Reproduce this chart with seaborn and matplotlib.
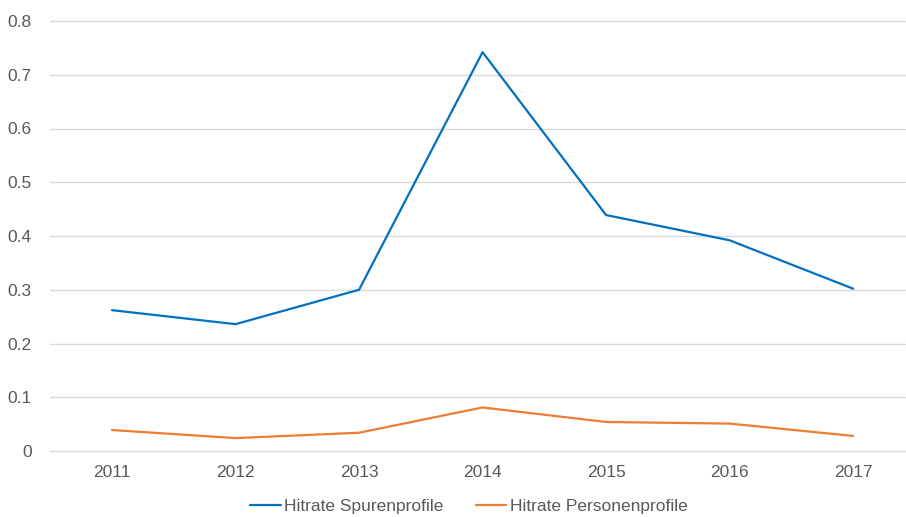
import matplotlib
matplotlib.use("Agg")
import matplotlib.pyplot as plt
import pandas as pd
import seaborn as sns

years = ["2011", "2012", "2013", "2014", "2015", "2016", "2017"]
spuren = [0.262, 0.236, 0.300, 0.742, 0.439, 0.392, 0.302]
personen = [0.039, 0.024, 0.034, 0.081, 0.054, 0.051, 0.028]
series_names = ["Hitrate Spurenprofile", "Hitrate Personenprofile"]
y_ticks = [0, 0.1, 0.2, 0.3, 0.4, 0.5, 0.6, 0.7, 0.8]
y_labels = ["0", "0.1", "0.2", "0.3", "0.4", "0.5", "0.6", "0.7", "0.8"]

df = pd.DataFrame({
    "Jahr": years * 2,
    "Hitrate": spuren + personen,
    "Serie": [series_names[0]] * len(years) + [series_names[1]] * len(years),
})

sns.set_style("white")
plt.rcParams["font.family"] = ["Liberation Sans", "DejaVu Sans"]

fig = plt.figure(figsize=(9.06, 5.17), dpi=100)
ax = fig.add_axes([50 / 906, 66 / 517, 855 / 906, 430 / 517])

palette = {series_names[0]: "#0070C0", series_names[1]: "#ED7D31"}
sns.lineplot(data=df, x="Jahr", y="Hitrate", hue="Serie", palette=palette,
             linewidth=1.6, ax=ax, sort=False)

ax.set_ylim(0, 0.8)
ax.set_xlim(-0.502, 6.42)
ax.set_yticks(y_ticks)
ax.set_yticklabels(y_labels)
ax.set_axisbelow(True)
ax.yaxis.grid(True, color="#D9D9D9", linewidth=1.0)
ax.xaxis.grid(False)
for gl in ax.get_ygridlines():
    gl.set_clip_on(False)
for s in ax.spines.values():
    s.set_visible(False)
ax.tick_params(axis="both", length=0, labelsize=12.5, colors="#595959")
ax.tick_params(axis="y", pad=13)
ax.tick_params(axis="x", pad=10)
ax.set_xlabel("")
ax.set_ylabel("")

handles, labels = ax.get_legend_handles_labels()
ax.legend(handles, labels, loc="center", bbox_to_anchor=(0.5 - 0.010, -0.130),
          ncol=2, frameon=False, fontsize=12.5, handlelength=1.75, handletextpad=0.2,
          columnspacing=1.85, labelcolor="#595959")

fig.savefig("out.png", dpi=100)
